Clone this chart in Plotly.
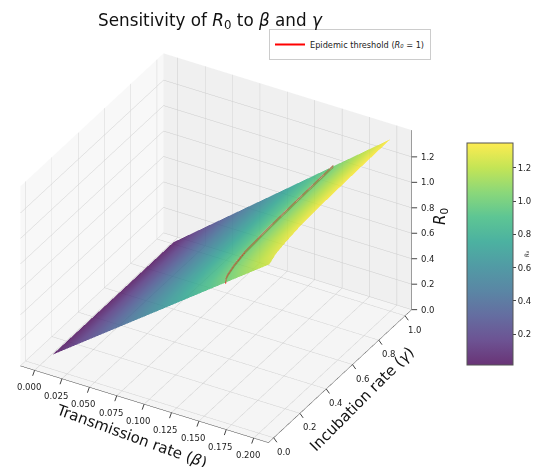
import plotly.graph_objects as go

beta_values = [0.002, 0.05, 0.1, 0.15, 0.2]
gamma_values = [0.08, 0.13, 0.2, 0.3, 0.5, 0.75, 1.0]
r0_values = [
    [0.013, 0.313, 0.625, 0.938, 1.250],
    [0.013, 0.321, 0.643, 0.964, 1.285],
    [0.013, 0.326, 0.652, 0.978, 1.304],
    [0.013, 0.331, 0.662, 0.992, 1.323],
    [0.013, 0.335, 0.669, 1.004, 1.338],
    [0.013, 0.337, 0.673, 1.010, 1.346],
    [0.014, 0.338, 0.675, 1.013, 1.350],
]
threshold_gamma = [0.08, 0.09, 0.105, 0.13, 0.2, 0.3, 0.5, 0.75, 1.0]
threshold_beta = [0.160, 0.159, 0.1575, 0.156, 0.1534, 0.151, 0.1495, 0.1486, 0.148]
threshold_r0 = [1.0, 1.0, 1.0, 1.0, 1.0, 1.0, 1.0, 1.0, 1.0]
beta_ticks = [0, 0.025, 0.05, 0.075, 0.1, 0.125, 0.15, 0.175, 0.2]
gamma_ticks = [0, 0.2, 0.4, 0.6, 0.8, 1.0]
r0_ticks = [0, 0.2, 0.4, 0.6, 0.8, 1.0, 1.2]
cbar_ticks = [0.2, 0.4, 0.6, 0.8, 1.0, 1.2]
viridis_rgb = ["68,1,84", "72,40,120", "62,73,137", "49,104,142", "38,130,142",
               "31,158,137", "53,183,121", "110,206,88", "181,222,43", "253,231,37"]

# The page body has an 8px margin, so the figure is drawn 8px in and 8px down.
W, H = 531, 459
PX = lambda p: (p - 8) / W
PY = lambda p: 1 - (p - 8) / H
FONT = "DejaVu Sans"
TXT = "#222222"
BETA_RANGE = [-0.013, 0.2135]
GAMMA_RANGE = [-0.04, 1.05]
R0_RANGE = [0, 1.41]
# Labels are hidden if they fall a rounding error outside the scene range.
BETA_EDGE = BETA_RANGE[1] - 1e-6
GAMMA_NEAR = GAMMA_RANGE[0] + 1e-5
GAMMA_FAR = GAMMA_RANGE[1] - 1e-5

colorscale = [[i / (len(viridis_rgb) - 1), f"rgba({c},0.8)"] for i, c in enumerate(viridis_rgb)]

fig = go.Figure()
# Red threshold line as the legend shows it, under the translucent surface.
fig.add_trace(go.Scatter3d(
    x=threshold_beta, y=threshold_gamma, z=[v - 0.008 for v in threshold_r0], mode="lines",
    line=dict(color="#ff0000", width=2),
    name="Epidemic threshold (<i>R₀</i> = 1)", showlegend=True,
))
# The same line as seen through the surface.
fig.add_trace(go.Scatter3d(
    x=threshold_beta, y=threshold_gamma, z=[v + 0.006 for v in threshold_r0], mode="lines",
    line=dict(color="#a67a52", width=2.5), showlegend=False, hoverinfo="skip",
))
fig.add_trace(go.Scatter3d(
    x=[BETA_RANGE[1], BETA_RANGE[1]], y=[GAMMA_RANGE[1], GAMMA_RANGE[1]], z=R0_RANGE, mode="lines",
    line=dict(color="#444", width=1), showlegend=False, hoverinfo="skip",
))
fig.add_trace(go.Surface(
    x=beta_values, y=gamma_values, z=r0_values,
    colorscale=colorscale, cmin=0.014, cmax=1.35, opacity=0.99, showlegend=False,
    lighting=dict(ambient=1, diffuse=0, specular=0, roughness=1, fresnel=0),
    contours=dict(x=dict(highlight=False), y=dict(highlight=False), z=dict(highlight=False)),
    colorbar=dict(
        x=PX(467), xanchor="left", xpad=0, y=PY(254), yanchor="middle", ypad=0,
        thicknessmode="pixels", thickness=46, lenmode="pixels", len=222,
        tickvals=cbar_ticks, ticktext=[f"{t:.1f}" for t in cbar_ticks],
        ticks="outside", ticklen=3, tickcolor="#444", outlinecolor="#555", outlinewidth=1,
        tickfont=dict(size=8.5, family=FONT, color=TXT),
        title=dict(text="<i>R₀</i>", side="right", font=dict(size=6, family=FONT, color=TXT)),
    ),
))


def axis(rng, ticks, fmt, bg):
    return dict(
        range=rng, tickvals=ticks, ticktext=[fmt.format(t) for t in ticks],
        title=dict(text=""), showbackground=True, backgroundcolor=bg,
        gridcolor="#cccccc", gridwidth=1, zeroline=False, showspikes=False,
        showline=True, linecolor="#444", linewidth=1, ticks="", showticklabels=False,
    )


zaxis = axis(R0_RANGE, r0_ticks, "{:.1f}", "#f5f5f5")
zaxis.update(showline=False)


def tick_label(x, y, z, text, ax, ay, pad):
    return dict(x=x, y=y, z=z, text=text, showarrow=True, ax=ax, ay=ay, arrowhead=0, arrowwidth=1,
                arrowcolor="#444", borderpad=pad, xanchor="center", yanchor="middle",
                font=dict(size=8.5, family=FONT, color=TXT))


scene_labels = (
    [tick_label(BETA_EDGE, GAMMA_FAR, t, f"{t:.1f}", 16, 0, 3) for t in r0_ticks]
    + [tick_label(t, GAMMA_NEAR, 0, f"{t:.3f}", -6, 17, 6) for t in beta_ticks]
    + [tick_label(BETA_EDGE, t, 0, f"{t:.1f}", 10, 14, 4) for t in gamma_ticks]
)

fig.update_layout(
    width=W, height=H, margin=dict(l=0, r=0, t=0, b=0), paper_bgcolor="white",
    font=dict(family=FONT, color=TXT),
    title=dict(text="Sensitivity of <i>R</i><sub>0</sub> to <i>β</i> and <i>γ</i>", x=PX(210), xanchor="center",
               y=PY(20), yanchor="middle", font=dict(size=16.8, family=FONT, color="#111")),
    legend=dict(x=PX(269), y=PY(44.5), xanchor="left", yanchor="middle", bgcolor="white", bordercolor="#ccc",
                borderwidth=1, font=dict(size=8.2, family=FONT, color=TXT)),
    scene=dict(
        domain=dict(x=[0, PX(424)], y=[2 / H, 1 - 23 / H]),
        aspectmode="manual", aspectratio=dict(x=1.32, y=1.32, z=0.98),
        camera=dict(eye=dict(x=0.433, y=-0.75, z=0.55), up=dict(x=0, y=0, z=1),
                    projection=dict(type="orthographic")),
        xaxis=axis(BETA_RANGE, beta_ticks, "{:.3f}", "#f8f8f8"),
        yaxis=axis(GAMMA_RANGE, gamma_ticks, "{:.1f}", "#f0f0f0"),
        zaxis=zaxis,
        annotations=scene_labels,
    ),
    annotations=[
        dict(text="Transmission rate (<i>β</i>)", x=PX(131), y=PY(436), xref="paper", yref="paper",
             xanchor="center", yanchor="middle",
             showarrow=False, textangle=20, font=dict(size=15, family=FONT, color="#111")),
        dict(text="Incubation rate (<i>γ</i>)", x=PX(362), y=PY(399), xref="paper", yref="paper",
             xanchor="center", yanchor="middle",
             showarrow=False, textangle=-45, font=dict(size=15, family=FONT, color="#111")),
        dict(text="<i>R</i><sub>0</sub>", x=PX(440), y=PY(217), xref="paper", yref="paper",
             xanchor="center", yanchor="middle",
             showarrow=False, textangle=-90, font=dict(size=15, family=FONT, color="#111")),
    ],
)
fig.write_html("out.html")
